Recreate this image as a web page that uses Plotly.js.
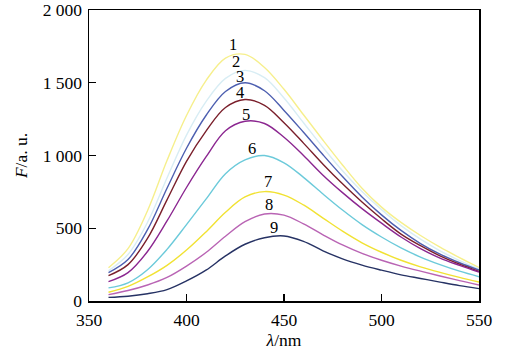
<!DOCTYPE html>
<html>
<head>
<meta charset="utf-8">
<script src="https://cdn.plot.ly/plotly-3.0.1.min.js"></script>
<style>html,body{margin:0;padding:0;background:#fff;}</style>
</head>
<body>
<div id="chart" style="width:515px;height:355px;"></div>
<script>
const wavelength = [360,370,380,390,400,410,420,430,440,450,460,470,480,490,500,510,520,530,540,550];
const curve1 = [229,360,620,965,1275,1515,1670,1695,1605,1455,1280,1105,935,775,645,540,450,370,298,230];
const curve2 = [208,320,540,845,1140,1370,1530,1585,1535,1395,1225,1055,895,752,628,518,425,345,278,222];
const curve3 = [195,285,490,775,1050,1275,1440,1500,1445,1310,1160,1005,855,715,592,485,395,322,263,213];
const curve4 = [174,250,430,695,960,1168,1330,1385,1345,1225,1085,940,805,680,565,460,380,310,253,203];
const curve5 = [133,195,340,550,780,990,1170,1235,1220,1125,1000,865,745,635,535,440,360,295,245,199];
const curve6 = [90,125,215,355,525,700,875,970,1000,950,850,735,625,525,440,365,302,250,205,167];
const curve7 = [60,100,165,245,350,475,610,715,752,728,660,570,480,400,335,280,235,197,162,130];
const curve8 = [44,72,110,162,240,333,445,545,598,590,530,455,385,327,280,240,205,172,140,110];
const curve9 = [25,33,50,78,138,212,310,390,435,447,410,345,290,247,212,180,155,130,106,85];
const seriesNames = ["1","2","3","4","5","6","7","8","9"];
const seriesColors = ["#f6ef8c","#d8edf4","#4d5fb0","#7a1f2b","#8b2690","#6ccada","#f1e233","#b964b4","#263264"];
const labelX = [423.8,425.4,427.4,427.4,430.5,433.6,442,442.3,444.9];
const labelY = [1765,1648,1545,1432,1285,1049,820,665,504];
const yTickVals = [0,500,1000,1500,2000];
const yTickText = ["0","500","1 000","1 500","2 000"];
const xTickVals = [350,400,450,500,550];

const allCurves = [curve1,curve2,curve3,curve4,curve5,curve6,curve7,curve8,curve9];
const traces = allCurves.map((c,i)=>({
  x: wavelength, y: c, type:'scatter', mode:'lines', name: seriesNames[i],
  line:{color: seriesColors[i], width:1.4, shape:'spline', smoothing:1},
  hoverinfo:'skip'
}));
const annotations = seriesNames.map((n,i)=>({
  x: labelX[i], y: labelY[i], xref:'x', yref:'y', text:n, showarrow:false,
  font:{family:'Liberation Serif, Times New Roman, serif', size:16.5, color:'#000'}
}));
const font = {family:'Liberation Serif, Times New Roman, serif', size:17.5, color:'#000'};
const layout = {
  width:515, height:355,
  margin:{l:89, r:36, t:10, b:54},
  paper_bgcolor:'#fff', plot_bgcolor:'#fff',
  showlegend:false,
  font: font,
  xaxis:{
    range:[350,550], tickvals:xTickVals, ticks:'inside', ticklen:7, tickwidth:1.3, tickcolor:'#000',
    showline:true, linecolor:'#000', linewidth:1.5, mirror:true, showgrid:false, zeroline:false,
    tickfont:font, ticklabelstandoff:2,
    title:{text:'<i>λ</i>/nm', font:font, standoff:3}
  },
  yaxis:{
    range:[0,2000], tickvals:yTickVals, ticktext:yTickText, ticks:'inside', ticklen:7, tickwidth:1.3, tickcolor:'#000',
    showline:true, linecolor:'#000', linewidth:1.5, mirror:true, showgrid:false, zeroline:false,
    tickfont:font, ticklabelstandoff:2,
    title:{text:'<i>F</i>/a. u.', font:font, standoff:10}
  },
  annotations: annotations
};
Plotly.newPlot('chart', traces, layout, {staticPlot:true, displayModeBar:false});
</script>
</body>
</html>
